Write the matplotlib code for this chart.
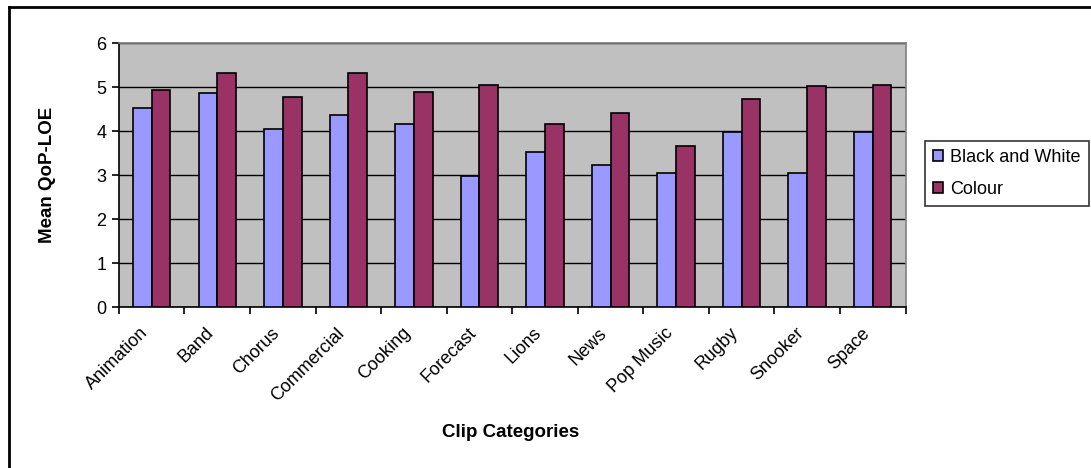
import matplotlib.pyplot as plt
import matplotlib.transforms as mtransforms
import numpy as np
from matplotlib.lines import Line2D

plt.rcParams['font.family'] = ['Liberation Sans', 'DejaVu Sans']

categories = ['Animation', 'Band', 'Chorus', 'Commercial', 'Cooking', 'Forecast',
              'Lions', 'News', 'Pop Music', 'Rugby', 'Snooker', 'Space']
black_white = [4.53, 4.86, 4.05, 4.37, 4.17, 2.98, 3.53, 3.22, 3.05, 3.97, 3.05, 3.97]
colour = [4.93, 5.33, 4.77, 5.33, 4.89, 5.05, 4.17, 4.42, 3.66, 4.73, 5.02, 5.05]

fig = plt.figure(figsize=(10.91, 4.68), dpi=100)
ax = fig.add_axes([0.109, 0.344, 0.721, 0.564])

x = np.arange(len(categories))
w = 1 / 3.5
ax.bar(x - w / 2, black_white, w, color='#9999FF', edgecolor='black', linewidth=1.2,
       label='Black and White', zorder=3)
ax.bar(x + w / 2, colour, w, color='#993366', edgecolor='black', linewidth=1.2,
       label='Colour', zorder=3)

ax.set_facecolor('#C0C0C0')
ax.set_xlim(-0.5, len(categories) - 0.5)
ax.set_ylim(0, 6)
ax.set_yticks(range(7))
ax.yaxis.grid(True, color='black', linewidth=1.0, zorder=1)
ax.set_axisbelow(True)

# category ticks sit between groups, labels at group centres
ax.set_xticks(np.arange(len(categories) + 1) - 0.5)
ax.set_xticklabels([])
ax.set_xticks(x, minor=True)
ax.set_xticklabels(categories, minor=True, rotation=45, ha='right', rotation_mode='anchor',
                   fontsize=13)
ax.tick_params(axis='x', which='minor', length=0, pad=9)
ax.tick_params(axis='x', which='major', length=5, direction='out', width=1.2)
ax.tick_params(axis='y', length=5, direction='out', width=1.2, labelsize=13, pad=4)

# nudge rotated category labels a little left and down
shift = mtransforms.ScaledTranslation(-12 / 100, -5 / 100, fig.dpi_scale_trans)
for lbl in ax.get_xticklabels(minor=True):
    lbl.set_transform(lbl.get_transform() + shift)

for side in ['top', 'right']:
    ax.spines[side].set_color('#808080')
    ax.spines[side].set_linewidth(1.2)
for side in ['left', 'bottom']:
    ax.spines[side].set_color('black')
    ax.spines[side].set_linewidth(1.2)

ax.set_ylabel('Mean QoP-LOE', fontsize=13.5, fontweight='bold', labelpad=29)
ax.set_xlabel('Clip Categories', fontsize=13.5, fontweight='bold')
ax.xaxis.set_label_coords(0.498, -0.443)

leg = fig.legend(loc='upper left', bbox_to_anchor=(0.848, 0.699), frameon=True,
                 fancybox=False, edgecolor='black', fontsize=13, handlelength=0.55,
                 handleheight=0.55, handletextpad=0.4, borderpad=0.45, labelspacing=0.83,
                 borderaxespad=0)
leg.get_frame().set_linewidth(1.2)

# chart frame edges
fig.add_artist(Line2D([0.008, 1.0], [0.986, 0.986], color='black', linewidth=2,
                      transform=fig.transFigure))
fig.add_artist(Line2D([0.008, 0.008], [0.0, 0.986], color='black', linewidth=2,
                      transform=fig.transFigure))

fig.savefig('out.png', dpi=100)
